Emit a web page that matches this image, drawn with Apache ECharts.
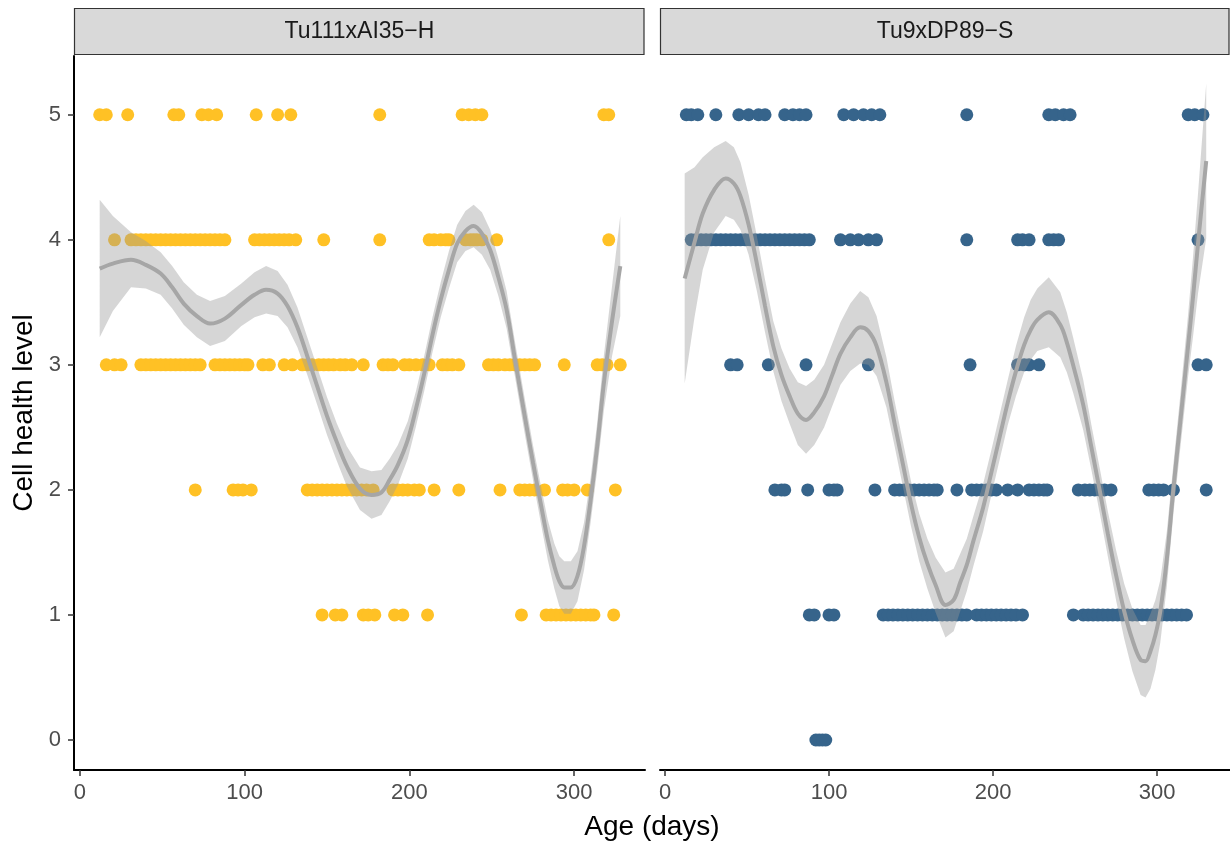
<!DOCTYPE html>
<html><head><meta charset="utf-8">
<script src="https://cdn.jsdelivr.net/npm/echarts@6/dist/echarts.min.js"></script>
<style>html,body{margin:0;padding:0;background:#fff}#c{width:1230px;height:846px}</style>
</head><body><div id="c"></div>
<script>
// ---------- data ----------
const panels = ['Tu111xAI35\u2212H', 'Tu9xDP89\u2212S'];
const xTicks = [0, 100, 200, 300];
const yTicks = [0, 1, 2, 3, 4, 5];

// Tu111xAI35-H : ages (days) of observations at each cell health level
const h_L5 = [12, 16, 29, 57, 60, 74, 78, 83, 107, 120, 128, 182, 232, 236, 240, 244, 318, 321];
const h_L4 = [21, 31, 34, 37, 40, 43, 46, 49, 52, 55, 58, 61, 64, 67, 70, 73, 76, 79, 82, 85, 88, 106, 109, 112, 115, 118, 121, 124, 127, 131, 148, 182, 212, 215, 219, 222, 224, 234, 237, 239, 241, 244, 253, 321];
const h_L3 = [16, 21, 25, 37, 40, 43, 46, 49, 52, 55, 58, 61, 64, 67, 70, 73, 82, 85, 88, 91, 94, 97, 100, 102, 111, 115, 124, 129, 135, 138, 141, 145, 148, 151, 154, 158, 161, 165, 172, 184, 187, 190, 197, 200, 204, 208, 212, 220, 223, 226, 230, 248, 251, 254, 258, 261, 264, 267, 270, 273, 276, 294, 314, 317, 320, 328];
const h_L2 = [70, 93, 96, 99, 104, 138, 141, 144, 147, 150, 153, 156, 159, 162, 165, 168, 171, 174, 178, 190, 193, 196, 199, 203, 206, 215, 230, 255, 267, 270, 273, 276, 282, 293, 296, 300, 308, 325];
const h_L1 = [147, 155, 159, 172, 175, 179, 191, 196, 211, 268, 283, 286, 289, 292, 295, 298, 301, 304, 307, 310, 312, 324];
const h_L0 = [];

// Tu9xDP89-S
const s_L5 = [13, 16, 20, 31, 45, 51, 57, 61, 73, 78, 82, 86, 109, 115, 121, 126, 131, 184, 234, 238, 243, 247, 319, 323, 328];
const s_L4 = [16, 19, 22, 25, 28, 31, 34, 37, 40, 43, 46, 49, 52, 55, 58, 61, 64, 67, 70, 73, 76, 79, 82, 85, 88, 107, 113, 118, 124, 129, 184, 215, 218, 222, 234, 237, 240, 325];
const s_L3 = [40, 44, 63, 86, 124, 186, 215, 219, 222, 228, 325, 330];
const s_L2 = [67, 71, 73, 87, 100, 103, 105, 128, 140, 143, 146, 149, 152, 155, 158, 161, 164, 166, 178, 187, 190, 193, 196, 199, 202, 209, 215, 222, 225, 228, 231, 233, 252, 256, 259, 262, 265, 268, 272, 295, 298, 301, 304, 310, 330];
const s_L1 = [88, 91, 100, 103, 133, 136, 139, 142, 145, 148, 151, 154, 157, 160, 163, 166, 169, 172, 175, 178, 181, 184, 190, 193, 196, 199, 202, 205, 208, 211, 214, 218, 249, 255, 258, 261, 264, 267, 270, 273, 276, 279, 282, 285, 288, 291, 294, 297, 300, 303, 306, 309, 312, 315, 318];
const s_L0 = [92, 94, 96, 98];

// smooth fits with confidence bands
const hFitX  = [12, 20, 31, 40, 49, 56, 63, 71, 79, 88, 98, 106, 113, 120, 126, 132, 138, 144, 150, 156, 162, 170, 177, 183, 188, 193, 199, 204, 209, 214, 219, 224, 229, 234, 239, 244, 249, 254, 259, 264, 270, 275, 280, 284, 288, 291, 294, 298, 302, 306, 310, 314, 318, 323, 328];
const hFitY  = [3.77, 3.81, 3.84, 3.80, 3.73, 3.62, 3.49, 3.39, 3.33, 3.37, 3.48, 3.56, 3.60, 3.57, 3.47, 3.30, 3.07, 2.83, 2.59, 2.38, 2.19, 2.01, 1.96, 1.98, 2.08, 2.20, 2.40, 2.65, 2.93, 3.24, 3.52, 3.76, 3.97, 4.07, 4.11, 4.05, 3.92, 3.70, 3.44, 3.05, 2.59, 2.22, 1.87, 1.60, 1.39, 1.27, 1.22, 1.22, 1.31, 1.55, 1.92, 2.35, 2.85, 3.35, 3.79];
const hFitLo = [3.22, 3.43, 3.62, 3.61, 3.56, 3.45, 3.32, 3.22, 3.15, 3.19, 3.31, 3.38, 3.41, 3.39, 3.30, 3.14, 2.92, 2.68, 2.44, 2.23, 2.03, 1.84, 1.77, 1.80, 1.91, 2.04, 2.25, 2.51, 2.79, 3.10, 3.38, 3.61, 3.82, 3.91, 3.94, 3.88, 3.76, 3.55, 3.29, 2.91, 2.45, 2.08, 1.72, 1.44, 1.21, 1.07, 1.01, 1.01, 1.11, 1.36, 1.74, 2.16, 2.63, 3.07, 3.39];
const hFitHi = [4.32, 4.19, 4.06, 3.99, 3.90, 3.79, 3.66, 3.56, 3.51, 3.55, 3.65, 3.74, 3.79, 3.75, 3.64, 3.46, 3.22, 2.98, 2.74, 2.53, 2.35, 2.18, 2.15, 2.16, 2.25, 2.36, 2.55, 2.79, 3.07, 3.38, 3.66, 3.91, 4.12, 4.23, 4.28, 4.22, 4.08, 3.85, 3.59, 3.19, 2.73, 2.36, 2.02, 1.76, 1.57, 1.47, 1.43, 1.43, 1.51, 1.74, 2.10, 2.54, 3.07, 3.63, 4.19];

const sFitX  = [12, 18, 23, 30, 37, 42, 46, 51, 56, 61, 66, 71, 76, 81, 86, 91, 97, 102, 107, 113, 119, 124, 129, 135, 140, 145, 150, 155, 160, 165, 171, 176, 180, 184, 188, 194, 199, 204, 209, 214, 219, 223, 227, 234, 241, 245, 249, 255, 260, 265, 270, 275, 280, 285, 290, 293, 296, 299, 302, 306, 310, 314, 319, 322, 325, 330];
const sFitY  = [3.69, 3.98, 4.21, 4.40, 4.49, 4.45, 4.35, 4.12, 3.81, 3.47, 3.15, 2.92, 2.75, 2.61, 2.56, 2.62, 2.75, 2.92, 3.09, 3.22, 3.30, 3.27, 3.15, 2.86, 2.53, 2.21, 1.89, 1.62, 1.41, 1.24, 1.08, 1.12, 1.26, 1.40, 1.59, 1.86, 2.14, 2.42, 2.70, 2.95, 3.16, 3.28, 3.36, 3.42, 3.32, 3.18, 2.99, 2.68, 2.34, 2.00, 1.65, 1.32, 1.03, 0.80, 0.64, 0.63, 0.71, 0.84, 1.03, 1.45, 2.01, 2.52, 3.16, 3.55, 3.97, 4.63];
const sFitLo = [2.85, 3.38, 3.76, 4.06, 4.19, 4.16, 4.08, 3.88, 3.59, 3.26, 2.95, 2.71, 2.53, 2.36, 2.29, 2.36, 2.50, 2.67, 2.84, 2.95, 3.01, 3.00, 2.91, 2.66, 2.35, 2.03, 1.71, 1.43, 1.21, 1.02, 0.82, 0.87, 1.03, 1.19, 1.39, 1.67, 1.96, 2.24, 2.52, 2.75, 2.94, 3.04, 3.11, 3.14, 3.06, 2.94, 2.77, 2.48, 2.16, 1.82, 1.47, 1.12, 0.81, 0.55, 0.36, 0.34, 0.41, 0.56, 0.78, 1.23, 1.81, 2.31, 2.91, 3.23, 3.57, 4.01];
const sFitHi = [4.53, 4.58, 4.66, 4.74, 4.79, 4.74, 4.62, 4.36, 4.03, 3.68, 3.35, 3.13, 2.97, 2.86, 2.83, 2.88, 3.00, 3.17, 3.34, 3.49, 3.59, 3.54, 3.39, 3.06, 2.71, 2.39, 2.07, 1.81, 1.61, 1.46, 1.34, 1.37, 1.49, 1.61, 1.79, 2.05, 2.32, 2.60, 2.88, 3.15, 3.38, 3.52, 3.61, 3.70, 3.58, 3.42, 3.21, 2.88, 2.52, 2.18, 1.83, 1.52, 1.25, 1.05, 0.92, 0.92, 1.01, 1.12, 1.28, 1.67, 2.21, 2.73, 3.41, 3.87, 4.37, 5.25];

// ---------- build ----------
const FONT = 'Liberation Sans, Arial, Helvetica, sans-serif';
function pts(levels) {
  const out = [];
  levels.forEach((arr, lvl) => arr.forEach(x => out.push([x, lvl])));
  return out;
}
const hPts = pts([h_L0, h_L1, h_L2, h_L3, h_L4, h_L5]);
const sPts = pts([s_L0, s_L1, s_L2, s_L3, s_L4, s_L5]);
const zip = (a, b) => a.map((v, i) => [v, b[i]]);

function bandSeries(idx, xs, lo, hi) {
  return {
    type: 'custom', xAxisIndex: idx, yAxisIndex: idx, z: 3, silent: true,
    data: [[xs[0], lo[0]]],
    renderItem: function (params, api) {
      const p = [];
      for (let i = 0; i < xs.length; i++) p.push(api.coord([xs[i], hi[i]]));
      for (let i = xs.length - 1; i >= 0; i--) p.push(api.coord([xs[i], lo[i]]));
      return { type: 'polygon', shape: { points: p, smooth: 0 }, style: { fill: 'rgba(153,153,153,0.4)' } };
    }
  };
}
function fitSeries(idx, xs, ys) {
  return {
    type: 'line', xAxisIndex: idx, yAxisIndex: idx, z: 4, silent: true,
    data: zip(xs, ys), symbol: 'none', smooth: 0.35,
    lineStyle: { color: '#A6A6A6', width: 4 }
  };
}
function scatterSeries(idx, data, color) {
  return {
    type: 'scatter', xAxisIndex: idx, yAxisIndex: idx, z: 2, silent: true,
    data: data, symbolSize: 13, itemStyle: { color: color, opacity: 1 }
  };
}

const grids = [
  { left: 74, top: 56, width: 571, height: 714 },
  { left: 660, top: 56, width: 570, height: 714 }
];
const xRanges = [[-3.6, 343], [-3.05, 344.5]];

const xAxes = [0, 1].map(i => ({
  type: 'value', gridIndex: i, min: xRanges[i][0], max: xRanges[i][1],
  splitLine: { show: false },
  axisLine: { show: true, onZero: false, lineStyle: { color: '#000', width: 2 } },
  axisTick: { show: true, length: 6, customValues: xTicks, lineStyle: { color: '#333', width: 1.5 } },
  axisLabel: { customValues: xTicks, color: '#4D4D4D', fontSize: 22, fontFamily: FONT, margin: 12 }
}));
const yAxes = [0, 1].map(i => ({
  type: 'value', gridIndex: i, min: -0.24, max: 5.47, show: i === 0,
  splitLine: { show: false },
  axisLine: { show: true, onZero: false, lineStyle: { color: '#000', width: 2 } },
  axisTick: { show: true, length: 6, customValues: yTicks, lineStyle: { color: '#333', width: 1.5 } },
  axisLabel: { customValues: yTicks, color: '#4D4D4D', fontSize: 22, fontFamily: FONT, margin: 13 }
}));

const strips = [];
panels.forEach((name, i) => {
  const g = grids[i];
  strips.push({ type: 'rect', shape: { x: g.left + 0.5, y: 8.5, width: g.width - 1.5, height: 46 },
    style: { fill: '#D9D9D9', stroke: '#333333', lineWidth: 1.2 } });
  strips.push({ type: 'text', x: g.left + g.width / 2, y: 32,
    style: { text: name, fill: '#1A1A1A', font: '23px ' + FONT, textAlign: 'center', textVerticalAlign: 'middle' } });
});
strips.push({ type: 'text', x: 652, y: 827,
  style: { text: 'Age (days)', fill: '#000', font: '28px ' + FONT, textAlign: 'center', textVerticalAlign: 'middle' } });
strips.push({ type: 'text', x: 24, y: 413, rotation: Math.PI / 2,
  style: { text: 'Cell health level', fill: '#000', font: '28px ' + FONT, textAlign: 'center', textVerticalAlign: 'middle' } });

const chart = echarts.init(document.getElementById('c'), null, { renderer: 'canvas' });
chart.setOption({
  backgroundColor: '#fff',
  animation: false,
  grid: grids,
  xAxis: xAxes,
  yAxis: yAxes,
  graphic: strips,
  series: [
    scatterSeries(0, hPts, '#FFC125'),
    bandSeries(0, hFitX, hFitLo, hFitHi),
    fitSeries(0, hFitX, hFitY),
    scatterSeries(1, sPts, '#36648B'),
    bandSeries(1, sFitX, sFitLo, sFitHi),
    fitSeries(1, sFitX, sFitY)
  ]
});
</script></body></html>
